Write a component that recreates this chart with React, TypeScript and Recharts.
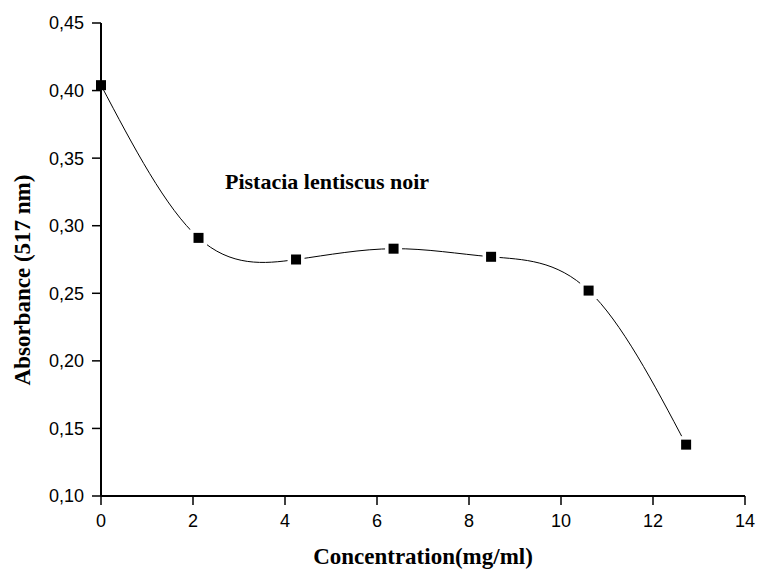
import { LineChart, Line, XAxis, YAxis, Customized } from 'recharts';

// Concentration (mg/ml) and absorbance at 517 nm
const concentrations = [0, 2.12, 4.24, 6.36, 8.48, 10.6, 12.72];
const absorbance = [0.404, 0.291, 0.275, 0.283, 0.277, 0.252, 0.138];

const xMajorTicks = [0, 2, 4, 6, 8, 10, 12, 14];
const xMinorTicks = [1, 3, 5, 7, 9, 11, 13];
const yMajorTicks = [0.1, 0.15, 0.2, 0.25, 0.3, 0.35, 0.4, 0.45];
const yMinorTicks = [0.125, 0.175, 0.225, 0.275, 0.325, 0.375, 0.425];

const seriesName = 'Pistacia lentiscus noir';
const xTitle = 'Concentration(mg/ml)';
const yTitle = 'Absorbance (517 nm)';

const chartData = concentrations.map((c, i) => ({ x: c, y: absorbance[i] }));

const SERIF = '"Liberation Serif", "Times New Roman", serif';
const SANS = '"Liberation Sans", Arial, sans-serif';

const tickStyle = { fontSize: 18, fill: '#000', fontFamily: SANS };

/** Origin-style filled square, with a white halo so the spline stops short of it */
function SquareDot(props: any) {
  const { cx, cy, index } = props;
  if (cx == null || cy == null) return <g key={`d${index}`} />;
  const s = 10;
  const halo = 17;
  return (
    <g key={`d${index}`}>
      {index > 0 && (
        <rect x={cx - halo / 2} y={cy - halo / 2} width={halo} height={halo} fill="#fff" />
      )}
      <rect x={cx - s / 2} y={cy - s / 2} width={s} height={s} fill="#000" />
    </g>
  );
}

function Texts() {
  return (
    <g fontFamily={SERIF} fontWeight="bold" fill="#000">
      <text x={225} y={189} fontSize={22} textAnchor="start">
        {seriesName}
      </text>
      <text x={423} y={564} fontSize={23} textAnchor="middle">
        {xTitle}
      </text>
      <text
        x={22}
        y={280}
        fontSize={23}
        textAnchor="middle"
        dominantBaseline="central"
        transform="rotate(-90, 22, 280)"
      >
        {yTitle}
      </text>
    </g>
  );
}

export default function App() {
  return (
    <div style={{ position: 'absolute', left: 0, top: 0, width: 758, height: 569, background: '#fff' }}>
      <LineChart
        width={758}
        height={569}
        data={chartData}
        margin={{ top: 23, right: 13, left: 39, bottom: 0 }}
      >
        {/* minor ticks first, zero-sized so they sit on the plot edge */}
        <XAxis
          xAxisId="minor"
          dataKey="x"
          type="number"
          domain={[0, 14]}
          ticks={xMinorTicks}
          interval={0}
          height={0}
          axisLine={false}
          tick={false}
          tickSize={4}
          tickLine={{ stroke: '#000', strokeWidth: 1.5 }}
        />
        <YAxis
          yAxisId="minor"
          type="number"
          domain={[0.1, 0.45]}
          ticks={yMinorTicks}
          interval={0}
          width={0}
          axisLine={false}
          tick={false}
          tickSize={4}
          tickLine={{ stroke: '#000', strokeWidth: 1.5 }}
        />
        <XAxis
          dataKey="x"
          type="number"
          domain={[0, 14]}
          ticks={xMajorTicks}
          interval={0}
          height={73}
          tickSize={9}
          tickMargin={9}
          axisLine={{ stroke: '#000', strokeWidth: 2 }}
          tickLine={{ stroke: '#000', strokeWidth: 1.5 }}
          tick={tickStyle}
          tickFormatter={(v: number) => `${v}`}
        />
        <YAxis
          type="number"
          domain={[0.1, 0.45]}
          ticks={yMajorTicks}
          interval={0}
          width={62}
          tickSize={9}
          tickMargin={8}
          axisLine={{ stroke: '#000', strokeWidth: 2 }}
          tickLine={{ stroke: '#000', strokeWidth: 1.5 }}
          tick={tickStyle}
          tickFormatter={(v: number) => v.toFixed(2).replace('.', ',')}
        />
        <Line
          type="natural"
          dataKey="y"
          stroke="#000"
          strokeWidth={1}
          dot={SquareDot}
          activeDot={false}
          isAnimationActive={false}
        />
        <Customized component={Texts} />
      </LineChart>
    </div>
  );
}
